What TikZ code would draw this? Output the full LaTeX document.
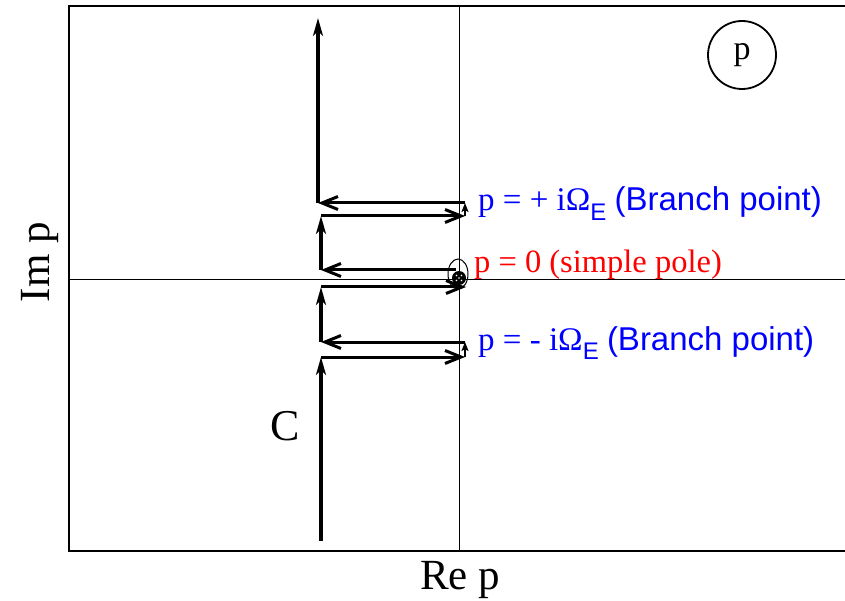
\documentclass[tikz,border=0pt]{standalone}
\usepackage{fontspec}
\setmainfont{Liberation Serif}
\setsansfont{Liberation Sans}
\usetikzlibrary{arrows.meta,positioning}
\definecolor{BranchBlue}{RGB}{0,0,255}
\definecolor{PoleRed}{RGB}{255,0,0}
\tikzset{
  axis/.style={line width=0.9pt},
  vpath/.style={-{Stealth[length=18pt,width=10pt,inset=5pt]},line width=3.2pt},
  hpath/.style={-{Straight Barb[length=16pt,width=13pt]},line width=3pt},
  spath/.style={-{Stealth[length=9pt,width=7pt,inset=2pt]},line width=2.6pt},
  blab/.style={anchor=base west,text=BranchBlue,inner sep=0pt,
               font=\fontsize{33}{38}\selectfont},
  rlab/.style={anchor=base west,text=PoleRed,inner sep=0pt,
               font=\fontsize{32.5}{38}\selectfont},
  big/.style={inner sep=0pt,font=\fontsize{43}{48}\selectfont},
}
\newcommand{\subE}[1]{\raisebox{-0.3em}{\sffamily\fontsize{24}{26}\selectfont #1}}

\begin{document}
\begin{tikzpicture}[x=1pt,y=-1pt]
    \useasboundingbox (0,0) rectangle (845,601);
    % frame and axes
    \draw[line width=1.3pt] (845,6) -- (69,6) -- (69,551) -- (845,551);
    \draw[axis] (459,6) -- (459,551);
    \draw[axis] (69,279) -- (845,279);

    % contour corners
    \coordinate (c0) at (321,541);
    \coordinate (c1) at (321,357);
    \coordinate (c2) at (465,357);
    \coordinate (c3) at (465,342);
    \coordinate (c4) at (321,342);
    \coordinate (c5) at (321,287);
    \coordinate (c6) at (466,287);
    \coordinate (c7) at (456,270);
    \coordinate (c8) at (321,270);
    \coordinate (c9) at (321,216);
    \coordinate (c10) at (465,216);
    \coordinate (c11) at (465,203);
    \coordinate (c12) at (318,203);
    \coordinate (c13) at (318,18);

    \draw[vpath] (c0) -- (c1);
    \draw[hpath] (c1) -- (c2);
    \draw[spath] (c2) -- (c3);
    \draw[hpath] (c3) -- (c4);
    \draw[vpath] (c4) -- (c5);
    \draw[hpath] (c5) -- (c6);
    \draw[hpath] (c7) -- (c8);
    \draw[vpath] (c8) -- (c9);
    \draw[hpath] (c9) -- (c10);
    \draw[spath] (c10) -- (c11);
    \draw[hpath] (c11) -- (c12);
    \draw[vpath] (c12) -- (c13);

    % pole
    \draw[line width=1pt] (458,274) ellipse [x radius=10,y radius=15];
    \fill (459,278) circle [radius=7];
    \foreach \dx/\dy in {-2.5/-2.5,2.5/-2.5,-2.5/2.5,2.5/2.5,0/0}
      \fill[white] (459+\dx,278+\dy) circle [radius=0.9];

    % labels
    \node[blab] (bp) at (478,211) {p = + iΩ\subE{E} \sffamily(Branch point)};
    \node[rlab] (sp) at (474,273) {p = 0 (simple pole)};
    \node[blab] (bm) at (478,350) {p = - iΩ\subE{E} \sffamily(Branch point)};
    \node[big,font=\fontsize{44}{48}\selectfont] (cc) at (285,426) {C};
    \node[big,anchor=base west] (re) at (420,589) {Re p};
    \node[big,rotate=90] (im) at (40,262) {Im p};
    \node[draw,circle,line width=1.8pt,minimum size=68pt,inner sep=0pt,
          font=\fontsize{34}{38}\selectfont] (pp) at (742,55) {p};
\end{tikzpicture}
\end{document}
